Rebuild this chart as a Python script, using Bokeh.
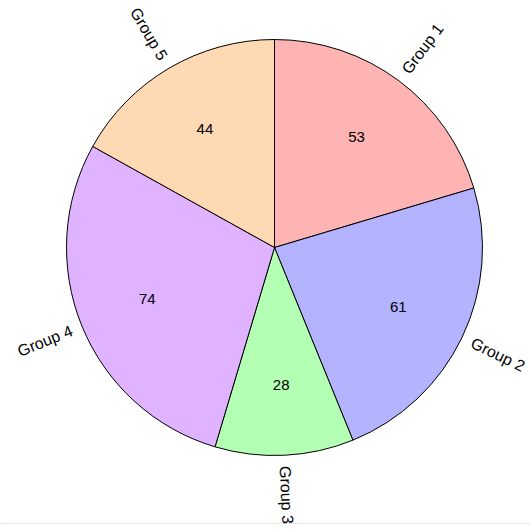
import math
from bokeh.plotting import figure
from bokeh.models import ColumnDataSource, Range1d, Span
from bokeh.core.properties import value
from bokeh.embed import file_html
from bokeh.resources import INLINE

groups = ["Group 1", "Group 2", "Group 3", "Group 4", "Group 5"]
values = [53, 61, 28, 74, 44]
colors = ["#FFB3B3", "#B3B3FF", "#B3FFB3", "#DFB3FF", "#FFD9B3"]

total = sum(values)
starts, ends, mids = [], [], []
acc = 0.0
for v in values:
    a0 = acc / total * 2 * math.pi
    acc += v
    a1 = acc / total * 2 * math.pi
    # angles measured clockwise from top -> convert to standard (ccw from +x)
    starts.append(math.pi / 2 - a0)
    ends.append(math.pi / 2 - a1)
    mids.append(math.pi / 2 - (a0 + a1) / 2)

R_LABEL = 0.66
R_OUT = 1.052
vx = [R_LABEL * math.cos(m) for m in mids]
vy = [R_LABEL * math.sin(m) for m in mids]
lx, ly, lang, lalign = [], [], [], []
for m in mids:
    lx.append(R_OUT * math.cos(m))
    ly.append(R_OUT * math.sin(m))
    a = math.atan2(math.sin(m), math.cos(m))
    if -math.pi / 2 <= a <= math.pi / 2:
        lang.append(a)
        lalign.append("left")
    else:
        lang.append(a + math.pi)
        lalign.append("right")

src = ColumnDataSource(dict(group=groups, value=[str(v) for v in values], color=colors,
                            start=starts, end=ends, vx=vx, vy=vy,
                            lx=lx, ly=ly, lang=lang, lalign=lalign))

scale = 208.0
cx, cy = 274.0, 247.0
W, H = 530, 529
p = figure(width=W, height=H, output_backend="svg", toolbar_location=None,
           x_range=Range1d(-cx / scale, (W - cx) / scale),
           y_range=Range1d(-(H - cy) / scale, cy / scale),
           min_border=0, min_border_left=0, min_border_right=0,
           min_border_top=0, min_border_bottom=0)
p.axis.visible = False
p.grid.visible = False
p.outline_line_color = None
p.background_fill_color = "white"
p.border_fill_color = "white"

p.add_layout(Span(location=(cy - 523) / scale, dimension="width",
                  line_color="#E3E3E3", line_width=1, level="underlay"))

p.wedge(x=0, y=0, radius=1.0, start_angle="start", end_angle="end",
        direction="clock", fill_color="color", line_color="black",
        line_width=1, source=src)

p.text(x="vx", y="vy", text="value", text_align="center", text_baseline="middle",
       text_font=value("Liberation Sans"), text_font_size="15px", text_color="black",
       source=src)

p.text(x="lx", y="ly", text="group", angle="lang", text_align="lalign",
       text_baseline="middle", text_font=value("Liberation Sans"),
       text_font_size="16px", text_color="black", source=src)

open("out.html", "w").write(file_html(p, INLINE))
